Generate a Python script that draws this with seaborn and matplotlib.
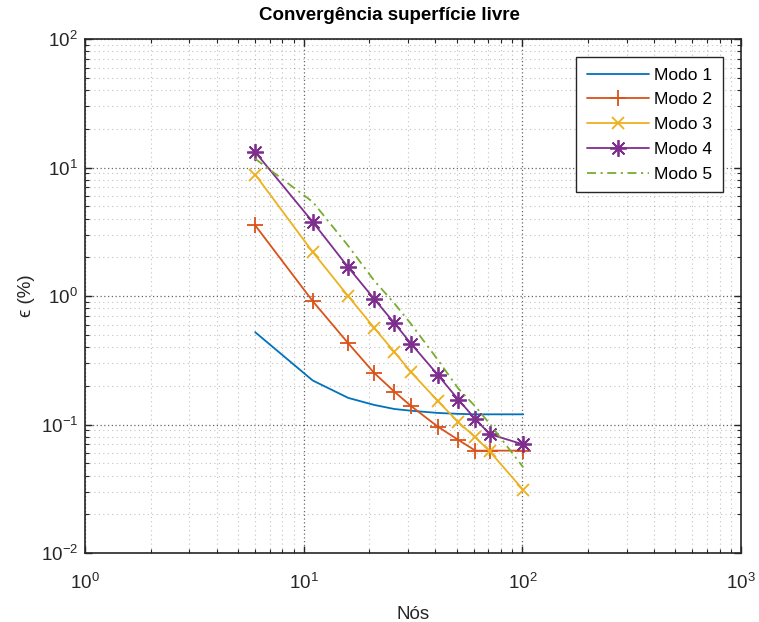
import matplotlib
matplotlib.use("Agg")
import matplotlib.pyplot as plt
import seaborn as sns
import pandas as pd

# Number of nodes used in each refinement
nodes = [6, 11, 16, 21, 26, 31, 41, 51, 61, 71, 101]

# Relative error (%) of each free-surface mode
modo1 = [0.523, 0.22, 0.161, 0.142, 0.132, 0.128, 0.123, 0.121, 0.120, 0.120, 0.120]
modo2 = [3.55, 0.912, 0.428, 0.252, 0.180, 0.139, 0.0964, 0.0758, 0.0626, 0.0626, 0.0626]
modo3 = [8.82, 2.20, 0.995, 0.566, 0.366, 0.255, 0.153, 0.104, 0.0795, 0.0617, 0.0309]
modo4 = [13.2, 3.77, 1.67, 0.95, 0.615, 0.425, 0.244, 0.156, 0.110, 0.084, 0.070]
modo5 = [11.7, 5.4, 2.45, 1.32, 0.875, 0.605, 0.32, 0.19, 0.138, 0.101, 0.0464]

labels = ["Modo 1", "Modo 2", "Modo 3", "Modo 4", "Modo 5"]
series = [modo1, modo2, modo3, modo4, modo5]

title = "Convergência superfície livre"
xlabel = "Nós"
ylabel = "ϵ (%)"

sns.set_style("ticks")
plt.rcParams["font.family"] = ["Liberation Sans", "DejaVu Sans"]
plt.rcParams["mathtext.fontset"] = "custom"
plt.rcParams["mathtext.rm"] = "Liberation Sans"
plt.rcParams["mathtext.it"] = "Liberation Sans:italic"
plt.rcParams["mathtext.bf"] = "Liberation Sans:bold"

axis_col = "#262626"

styles = {
    "Modo 1": dict(color="#0072BD", marker=None, linestyle="-"),
    "Modo 2": dict(color="#D95319", marker="+", markersize=12, linestyle="-"),
    "Modo 3": dict(color="#EDB120", marker="x", markersize=9, linestyle="-"),
    "Modo 4": dict(color="#7E2F8E", marker=(8, 2, 0), markersize=12, linestyle="-"),
    "Modo 5": dict(color="#77AC30", marker=None, linestyle=(0, (5, 2.5, 1.2, 2.5))),
}

fig = plt.figure(figsize=(7.59, 6.22), dpi=100)
ax = fig.add_axes([85 / 759, 1 - 553 / 622, (741 - 85) / 759, (553 - 39) / 622])

for lab, vals in zip(labels, series):
    df = pd.DataFrame({"Nós": nodes, "erro": vals})
    st = styles[lab]
    kw = dict(color=st["color"], linestyle=st["linestyle"], linewidth=1.3, label=lab)
    if st["marker"] is not None:
        kw.update(marker=st["marker"], markersize=st["markersize"],
                  markeredgewidth=1.3, markeredgecolor=st["color"])
    sns.lineplot(data=df, x="Nós", y="erro", ax=ax, **kw)

ax.set_xscale("log")
ax.set_yscale("log")
ax.set_xlim(1, 1000)
ax.set_ylim(0.01, 100)

ax.grid(which="major", linestyle=(0, (1, 2)), color=axis_col, alpha=0.7, linewidth=0.9)
ax.grid(which="minor", linestyle=(0, (1, 3)), color=axis_col, alpha=0.28, linewidth=0.8)

for sp in ax.spines.values():
    sp.set_visible(True)
    sp.set_color(axis_col)
    sp.set_linewidth(1.2)

ax.tick_params(which="both", direction="in", top=True, right=True,
               colors=axis_col, labelcolor=axis_col)
ax.tick_params(which="major", length=5, width=1.0, labelsize=13.5)
ax.tick_params(axis="x", which="major", pad=14)
ax.tick_params(axis="y", which="major", pad=5)
ax.tick_params(which="minor", length=3, width=0.8)

ax.set_title(title, fontsize=13.5, fontweight="bold", color="black",
             x=(389 - 85) / 656, pad=14)
ax.set_xlabel(xlabel, fontsize=13.5, color=axis_col, labelpad=10)
ax.set_ylabel(ylabel, fontsize=13.5, color=axis_col, labelpad=4)

leg = ax.legend(loc="upper right", fontsize=12.5, frameon=True, fancybox=False,
                framealpha=1, edgecolor=axis_col, handlelength=3.6,
                handletextpad=0.3, labelspacing=0.55, borderaxespad=1.05,
                borderpad=0.6)
leg.get_frame().set_linewidth(1.0)
for t in leg.get_texts():
    t.set_color("black")

fig.savefig("out.png", dpi=100)
